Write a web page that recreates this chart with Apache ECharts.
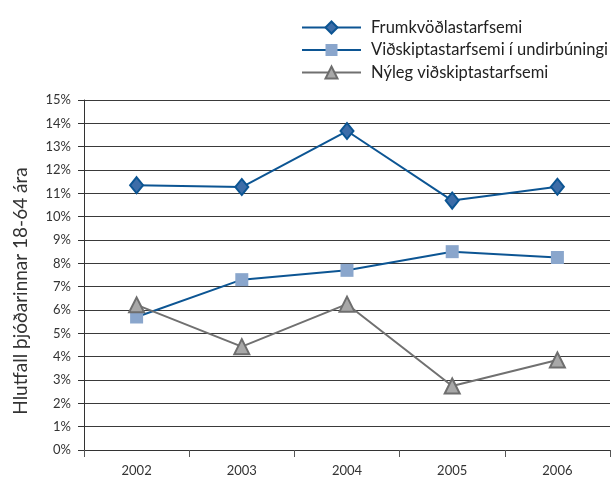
<!DOCTYPE html>
<html><head><meta charset="utf-8">
<script src="https://cdn.jsdelivr.net/npm/echarts@6/dist/echarts.min.js"></script>
<style>html,body{margin:0;padding:0;background:#fff}#c{width:616px;height:477px}</style>
</head><body><div id="c"></div>
<script>
var years = ['2002','2003','2004','2005','2006'];
var frumkvodla = [11.35, 11.27, 13.67, 10.69, 11.28];
var undirbuningi = [5.7, 7.3, 7.7, 8.5, 8.25];
var nyleg = [6.22, 4.43, 6.25, 2.74, 3.86];
var names = ['Frumkvöðlastarfsemi','Viðskiptastarfsemi í undirbúningi','Nýleg viðskiptastarfsemi'];
var FONT = 'Lato';
var chart = echarts.init(document.getElementById('c'));
chart.setOption({
  animation:false,
  textStyle:{fontFamily:FONT},
  legend:{
    orient:'vertical', left:296, top:14, itemWidth:59, itemHeight:15, itemGap:5.5,
    textStyle:{fontFamily:FONT, fontSize:16.5, color:'#222', padding:[0,0,0,5]},
    data:names
  },
  grid:{left:84, right:6, top:100, bottom:27, containLabel:false},
  xAxis:{
    type:'category', data:years, boundaryGap:true,
    axisLine:{lineStyle:{color:'#333', width:1}},
    axisTick:{show:true, length:7, lineStyle:{color:'#555'}},
    axisLabel:{margin:14, fontSize:13, color:'#333', fontFamily:FONT},
    splitLine:{show:false}
  },
  yAxis:{
    type:'value', min:0, max:15, interval:1,
    name:'Hlutfall þjóðarinnar 18-64 ára', nameLocation:'middle', nameGap:54,
    nameTextStyle:{fontSize:19, color:'#333', fontFamily:FONT, padding:[0,32,0,0]},
    axisLine:{show:true, lineStyle:{color:'#333'}},
    axisTick:{show:true, length:6, lineStyle:{color:'#333'}},
    axisLabel:{margin:13, fontSize:13, color:'#333', fontFamily:FONT, formatter:function(v){return v+'%';}},
    splitLine:{show:true, lineStyle:{color:'#3a3a3a', width:1}}
  },
  series:[
    {name:names[0], type:'line', data:frumkvodla, symbol:'diamond', symbolSize:[13,16],
      lineStyle:{color:'#0c5593', width:2}, itemStyle:{color:'#3d6da8', borderColor:'#0c5593', borderWidth:2}},
    {name:names[1], type:'line', data:undirbuningi, symbol:'rect', symbolSize:13,
      lineStyle:{color:'#0c5593', width:2}, itemStyle:{color:'#8aa6cc', borderColor:'#8aa6cc', borderWidth:0}},
    {name:names[2], type:'line', data:nyleg, symbol:'triangle', symbolSize:[15,15],
      lineStyle:{color:'#707070', width:2}, itemStyle:{color:'#a8a8a8', borderColor:'#6e6e6e', borderWidth:2}}
  ]
});
</script></body></html>
